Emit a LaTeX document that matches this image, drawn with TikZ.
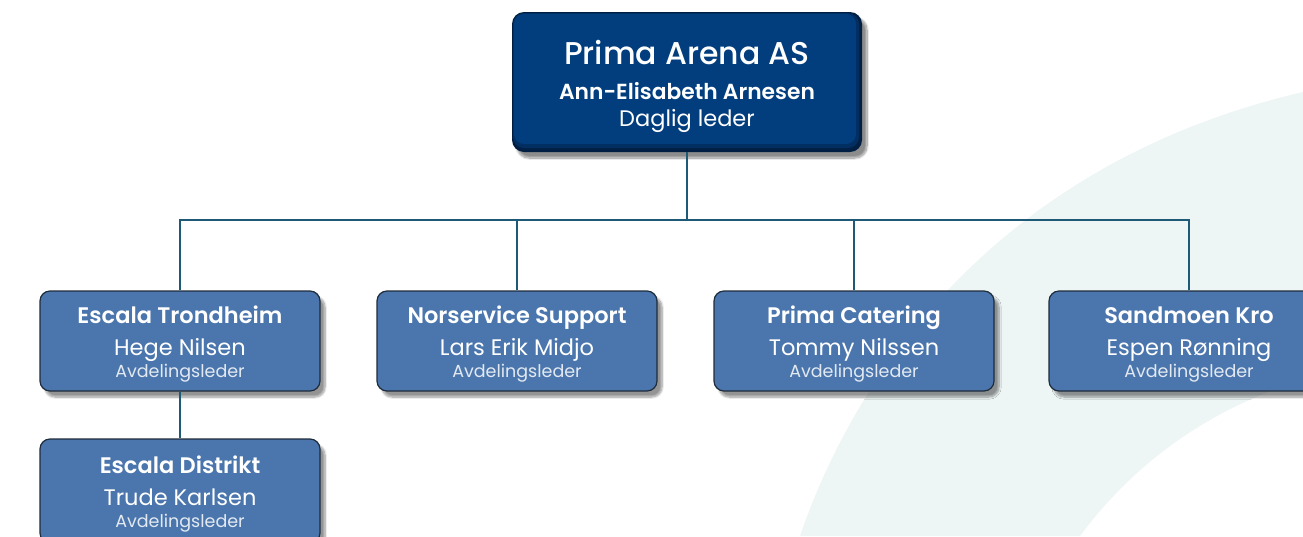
\documentclass[tikz,border=0pt]{standalone}
\usepackage{fontspec}
\setmainfont{Poppins}[BoldFont={Poppins SemiBold}]
\newfontfamily\titlefont{Poppins Medium}
\usetikzlibrary{shadows.blur}

\definecolor{arenablue}{HTML}{023D7E}
\definecolor{arenamid}{HTML}{022F62}
\definecolor{arenadark}{HTML}{011F42}
\definecolor{unitblue}{HTML}{4A76AD}
\definecolor{unitedge}{HTML}{1E2C3B}
\definecolor{linkteal}{HTML}{1E5976}
\definecolor{swirl}{HTML}{EEF6F5}
\definecolor{rolegrey}{HTML}{E3E9F1}

\tikzset{
  head/.style={rounded corners=12pt, fill=arenadark, minimum width=350pt,
    minimum height=140pt, inner sep=0pt, text=white, align=center,
    font=\fontsize{21.8}{35}\selectfont,
    blur shadow={shadow xshift=5pt, shadow yshift=-6pt, shadow blur steps=10, shadow opacity=45},
    path picture={
      \fill[arenamid, rounded corners=11pt]
        ([shift={(1pt,-1pt)}]path picture bounding box.north west) rectangle
        ([shift={(-3pt,4pt)}]path picture bounding box.south east);
      \fill[arenablue, rounded corners=10pt]
        ([shift={(2pt,-2pt)}]path picture bounding box.north west) rectangle
        ([shift={(-6pt,8pt)}]path picture bounding box.south east);
    }},
  unit/.style={rounded corners=10pt, fill=unitblue, draw=unitedge, line width=1.2pt,
    minimum width=280pt, minimum height=100pt, inner sep=0pt, text=white,
    align=center, font=\fontsize{22.5}{32.5}\selectfont,
    blur shadow={shadow xshift=5pt, shadow yshift=-6pt, shadow blur steps=8, shadow opacity=42}},
  link/.style={draw=linkteal, line width=2pt},
}
% three lines of a unit box, struts fix the baselines
\newcommand\unittext[3]{\rule{0pt}{24pt}{\fontsize{22.5}{25}\selectfont\bfseries #1}\\
  #2\\[-10.5pt] {\fontsize{17.5}{20}\selectfont\color{rolegrey}#3}\rule[-5.5pt]{0pt}{1pt}}

\begin{document}
\begin{tikzpicture}[x=1pt, y=-1pt]
  \useasboundingbox (0,0) rectangle (1303,536);
  \clip (0,0) rectangle (1303,536);
  % pale swirl behind the chart
  \fill[swirl] (800,536) .. controls (860,360) and (1010,160) .. (1303,92)
    -- (1303,380) .. controls (1220,405) and (1140,455) .. (1080,536) -- cycle;

  \node[head] (arena) at (687,82)
    {\rule{0pt}{33.7pt}{\titlefont\fontsize{31.5}{35}\selectfont Prima Arena AS}\\
     \textbf{Ann-Elisabeth Arnesen}\\[-8.3pt]
     {\fontsize{22.5}{25}\selectfont Daglig leder}\rule[-6pt]{0pt}{1pt}};

  \node[unit] (trondheim) at (180,341)
    {\unittext{Escala Trondheim}{Hege Nilsen}{Avdelingsleder}};
  \node[unit] (norservice) at (517,341)
    {\unittext{Norservice Support}{Lars Erik Midjo}{Avdelingsleder}};
  \node[unit] (catering) at (854,341)
    {\unittext{Prima Catering}{Tommy Nilssen}{Avdelingsleder}};
  \node[unit] (sandmoen) at (1189,341)
    {\unittext{Sandmoen Kro}{Espen Rønning}{Avdelingsleder}};
  \node[unit, minimum height=104pt] (distrikt) at (180,491)
    {\unittext{Escala Distrikt}{Trude Karlsen}{Avdelingsleder}};

  \coordinate (bus) at (687,220);
  \draw[link] (arena.south) -- (bus);
  \draw[link] (trondheim.north) |- (bus) -| (sandmoen.north);
  \draw[link] (norservice.north) -- (norservice.north |- bus);
  \draw[link] (catering.north) -- (catering.north |- bus);
  \draw[link] (trondheim.south) -- (distrikt.north);
\end{tikzpicture}
\end{document}
